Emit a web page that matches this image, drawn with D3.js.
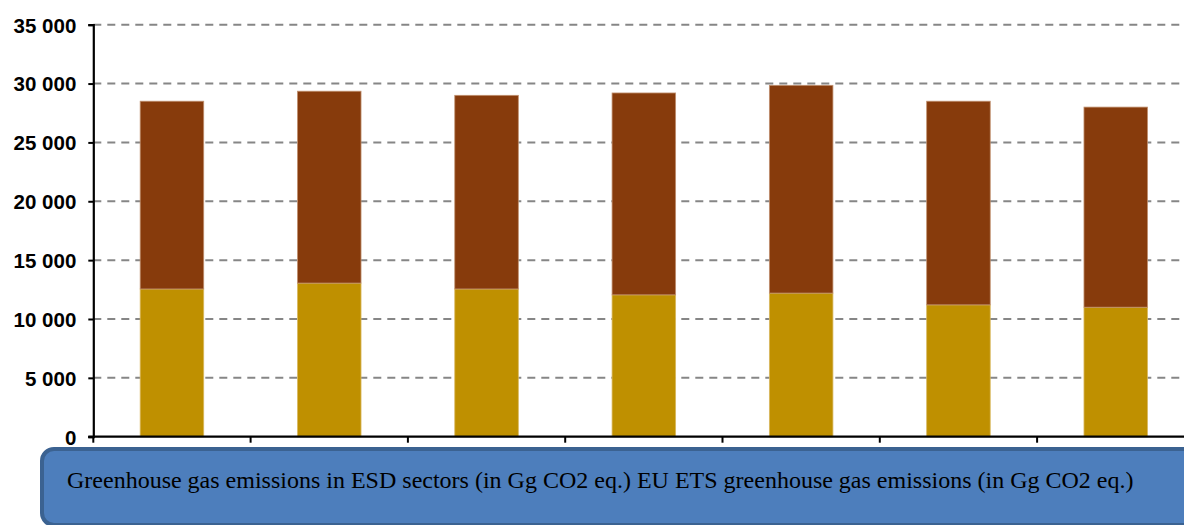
<!DOCTYPE html>
<html>
<head>
<meta charset="utf-8">
<script src="https://cdn.jsdelivr.net/npm/d3@7"></script>
<style>
  html, body { margin: 0; padding: 0; background: #fff; }
  svg { display: block; }
</style>
</head>
<body>
<svg id="chart" width="1184" height="525"></svg>
<script>
// ---- data ----
const categories = ["1", "2", "3", "4", "5", "6", "7"];
const esdValues = [12550, 13050, 12550, 12050, 12200, 11200, 11000];   // lower (gold) segment
const etsValues = [15950, 16300, 16450, 17150, 17650, 17300, 17000];   // upper (brown) segment
const yTicks = [0, 5000, 10000, 15000, 20000, 25000, 30000, 35000];
const legendText = "Greenhouse gas emissions in ESD sectors (in Gg CO2 eq.) EU ETS greenhouse gas emissions (in Gg CO2 eq.)";

// ---- layout ----
const W = 1184, H = 525;
const plotLeft = 93.3, plotTop = 24.7, plotBottom = 436.7;
const step = 157.3;
const svg = d3.select("#chart");

const y = d3.scaleLinear().domain([0, 35000]).range([plotBottom, plotTop]);
const x = d3.scaleBand().domain(categories)
  .range([plotLeft, plotLeft + step * categories.length])
  .paddingInner(0.596).paddingOuter(0.298);

const fmt = v => d3.format(",")(v).replace(/,/g, " ");

// gridlines
svg.append("g").selectAll("line")
  .data(yTicks.filter(t => t > 0))
  .join("line")
  .attr("x1", plotLeft).attr("x2", 1180)
  .attr("y1", d => y(d)).attr("y2", d => y(d))
  .attr("stroke", "#868686").attr("stroke-width", 2)
  .attr("stroke-dasharray", "8,6");

// stacked data
const rows = categories.map((c, i) => ({ cat: c, esd: esdValues[i], ets: etsValues[i] }));
const stack = d3.stack().keys(["esd", "ets"])(rows);
const colors = { esd: "#BF9000", ets: "#873B0C" };
const edge = { esd: "#D9B860", ets: "#C0906F" };

svg.append("g").selectAll("g")
  .data(stack)
  .join("g")
  .attr("fill", d => colors[d.key])
  .attr("stroke", d => edge[d.key])
  .attr("stroke-width", 0.8)
  .selectAll("rect")
  .data(d => d)
  .join("rect")
  .attr("x", d => x(d.data.cat))
  .attr("width", x.bandwidth())
  .attr("y", d => y(d[1]))
  .attr("height", d => y(d[0]) - y(d[1]));

// y axis
const yAxis = d3.axisLeft(y).tickValues(yTicks).tickSize(5).tickPadding(12).tickFormat(fmt);
const gy = svg.append("g").attr("transform", `translate(${plotLeft},0)`).call(yAxis);
gy.select(".domain").attr("stroke", "#000").attr("stroke-width", 2.2);
gy.selectAll(".tick line").attr("stroke", "#000").attr("stroke-width", 2);
gy.selectAll(".tick text")
  .attr("font-family", "'Liberation Sans', Arial, sans-serif")
  .attr("font-weight", "bold").attr("font-size", 20.5).attr("fill", "#000")
  .attr("dy", "0.36em");

// x axis line + boundary ticks
svg.append("line")
  .attr("x1", plotLeft - 5).attr("x2", W)
  .attr("y1", plotBottom).attr("y2", plotBottom)
  .attr("stroke", "#000").attr("stroke-width", 2.2);
const bounds = d3.range(categories.length + 1).map(i => x(categories[0]) + x.bandwidth() / 2 - x.step() / 2 + i * x.step());
svg.append("g").selectAll("line")
  .data(bounds)
  .join("line")
  .attr("x1", d => d).attr("x2", d => d)
  .attr("y1", plotBottom).attr("y2", plotBottom + 6)
  .attr("stroke", "#000").attr("stroke-width", 2);

// legend box
svg.append("rect")
  .attr("x", 42).attr("y", 449).attr("width", 1200).attr("height", 76)
  .attr("rx", 12).attr("ry", 12)
  .attr("fill", "#4D7EBC").attr("stroke", "#3B6291").attr("stroke-width", 4);
svg.append("text")
  .attr("x", 67).attr("y", 488)
  .attr("font-family", "'Liberation Serif', 'Times New Roman', serif")
  .attr("font-size", 24).attr("fill", "#000")
  .text(legendText);
</script>
</body>
</html>
